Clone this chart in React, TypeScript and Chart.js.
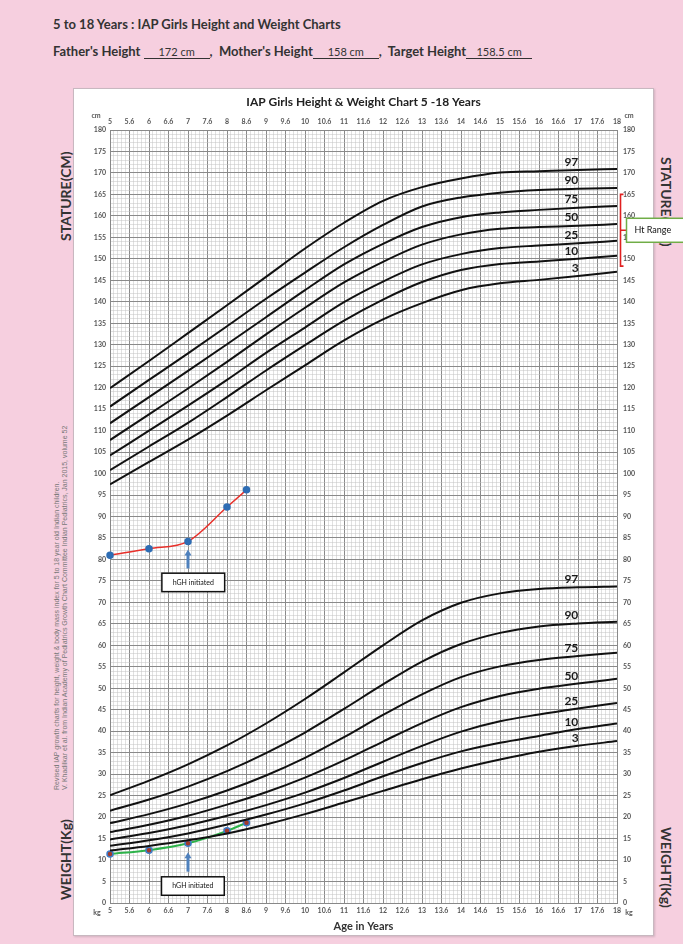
import React, { useEffect, useRef } from "react";
import { Chart, registerables } from "chart.js";
Chart.register(...registerables);

// ---------- data ----------
const ages = [5, 6, 7, 8, 9, 10, 11, 12, 13, 14, 15, 16, 17, 18];

const htP3 = [97.5, 102.7, 107.9, 113.5, 119.4, 125.2, 131.0, 135.9, 139.7, 142.7, 144.3, 145.1, 146.0, 147.0];
const htP10 = [100.8, 106.3, 111.8, 117.8, 124.0, 129.9, 135.6, 140.5, 144.6, 147.4, 148.8, 149.4, 150.0, 150.7];
const htP25 = [104.2, 110.0, 115.8, 121.8, 128.1, 134.0, 139.9, 144.7, 148.7, 151.1, 152.5, 153.1, 153.6, 154.2];
const htP50 = [107.8, 113.8, 119.8, 126.0, 132.4, 138.6, 144.5, 149.3, 153.3, 155.7, 157.0, 157.4, 157.7, 158.1];
const htP75 = [111.7, 117.8, 123.9, 130.1, 136.4, 142.7, 148.7, 153.5, 157.4, 159.7, 160.8, 161.4, 161.9, 162.3];
const htP90 = [115.6, 121.8, 128.0, 134.3, 140.7, 146.8, 152.7, 157.9, 162.2, 164.3, 165.4, 166.0, 166.3, 166.5];
const htP97 = [119.9, 126.2, 132.7, 139.2, 145.8, 152.4, 158.4, 163.5, 166.7, 168.7, 170.1, 170.4, 170.7, 170.9];

const wtP3 = [12.2, 13.3, 14.6, 16.2, 18.3, 20.7, 23.4, 26.1, 28.8, 31.3, 33.4, 35.2, 36.6, 37.7];
const wtP10 = [13.3, 14.6, 16.2, 18.3, 20.6, 23.2, 26.2, 29.5, 32.6, 35.3, 37.3, 38.9, 40.5, 41.8];
const wtP25 = [14.8, 16.3, 18.1, 20.3, 22.8, 25.7, 29.1, 32.9, 36.6, 39.9, 42.3, 43.9, 45.3, 46.6];
const wtP50 = [16.5, 18.2, 20.3, 22.9, 25.8, 29.2, 33.2, 37.6, 41.9, 45.6, 48.2, 49.9, 51.1, 52.2];
const wtP75 = [18.6, 20.7, 23.2, 26.2, 29.7, 33.8, 38.6, 43.8, 48.6, 52.6, 55.1, 56.6, 57.5, 58.3];
const wtP90 = [21.5, 24.1, 27.1, 30.7, 34.9, 39.7, 45.2, 50.9, 56.2, 60.3, 62.9, 64.4, 65.1, 65.5];
const wtP97 = [25.1, 28.5, 32.3, 36.7, 41.8, 47.5, 53.7, 60.0, 65.8, 69.9, 72.1, 73.1, 73.5, 73.7];

const percentileLabels = ["3", "10", "25", "50", "75", "90", "97"];

const patientAges = [5, 6, 7, 8, 8.5];
const patientHeight = [81.0, 82.5, 84.2, 92.2, 96.2];
const patientWeight = [11.4, 12.3, 13.9, 16.8, 18.7];

const hghAge = 7;
const htRange = [148.3, 165.0];

const headerTitle = "5 to 18 Years : IAP Girls Height and Weight Charts";
const fatherHeight = "172 cm";
const motherHeight = "158 cm";
const targetHeight = "158.5 cm";
const chartTitle = "IAP Girls Height & Weight Chart 5 -18 Years";
const sourceLine1 =
  "Revised IAP growth charts for height, weight & body mass index for 5 to 18 year old Indian children.";
const sourceLine2 =
  "V. Khadilkar et al. from Indian Academy of Pediatrics Growth Chart Committee Indian Pediatrics, Jan 2015, volume 52";

// ---------- helpers ----------
const PINK = "#f6cfdf";
const FONT = "Lato, 'Open Sans', sans-serif";

const near = (v: number, step: number) => Math.abs(v / step - Math.round(v / step)) < 1e-6;
const ageLabel = (v: number) => {
  const r = Math.round(v * 10) / 10;
  if (near(r, 1)) return String(Math.round(r));
  if (near(r, 0.5)) return Math.floor(r) + ".6";
  return "";
};
const valLabel = (v: number) => (near(v, 5) ? String(Math.round(v)) : "");

const interp = (xs: number[], ys: number[], a: number) => {
  for (let i = 0; i < xs.length - 1; i++) {
    if (a >= xs[i] && a <= xs[i + 1]) {
      const t = (a - xs[i]) / (xs[i + 1] - xs[i]);
      return ys[i] + t * (ys[i + 1] - ys[i]);
    }
  }
  return ys[ys.length - 1];
};

const htSets = [htP3, htP10, htP25, htP50, htP75, htP90, htP97];
const wtSets = [wtP3, wtP10, wtP25, wtP50, wtP75, wtP90, wtP97];

const overlay = {
  id: "overlay",
  afterDatasetsDraw(chart: any) {
    const { ctx, chartArea, scales } = chart;
    const x = scales.x;
    const y = scales.y;
    ctx.save();

    ctx.fillStyle = "#222";
    ctx.font = `bold 12px ${FONT}`;
    ctx.textAlign = "center";
    ctx.textBaseline = "middle";
    ctx.fillText(chartTitle, (chartArea.left + chartArea.right) / 2, 102);

    ctx.font = `bold 7px ${FONT}`;
    ctx.fillStyle = "#555";
    ctx.fillText("cm", chartArea.left - 14, chartArea.top - 14);
    ctx.fillText("cm", chartArea.right + 12, chartArea.top - 14);
    ctx.fillText("kg", chartArea.left - 13, chartArea.bottom + 10);
    ctx.fillText("kg", chartArea.right + 12, chartArea.bottom + 10);

    ctx.font = `bold 11px ${FONT}`;
    ctx.fillStyle = "#333";
    ctx.fillText("Age in Years", (chartArea.left + chartArea.right) / 2, chartArea.bottom + 23);

    ctx.font = `bold 12px ${FONT}`;
    ctx.fillStyle = "#1a1a1a";
    const drawLabels = (sets: number[][]) => {
      sets.forEach((arr, i) => {
        const a = percentileLabels[i] === "3" ? 16.93 : 16.83;
        const px = x.getPixelForValue(a);
        const py = y.getPixelForValue(interp(ages, arr, a)) - 8.5;
        ctx.fillText(percentileLabels[i], px, py);
      });
    };
    drawLabels(htSets);
    drawLabels(wtSets);

    const arrow = (tail: number, tip: number) => {
      const ax = x.getPixelForValue(hghAge);
      const ty = y.getPixelForValue(tail);
      const hy = y.getPixelForValue(tip);
      ctx.strokeStyle = "#4f81bd";
      ctx.fillStyle = "#4f81bd";
      ctx.lineWidth = 3;
      ctx.beginPath();
      ctx.moveTo(ax, ty);
      ctx.lineTo(ax, hy + 5);
      ctx.stroke();
      ctx.beginPath();
      ctx.moveTo(ax - 3.5, hy + 6);
      ctx.lineTo(ax + 3.5, hy + 6);
      ctx.lineTo(ax, hy);
      ctx.closePath();
      ctx.fill();
    };
    const box = (a0: number, a1: number, v0: number, v1: number) => {
      const x0 = x.getPixelForValue(a0);
      const x1 = x.getPixelForValue(a1);
      const y0 = y.getPixelForValue(v0);
      const y1 = y.getPixelForValue(v1);
      ctx.fillStyle = "#fff";
      ctx.fillRect(x0, y0, x1 - x0, y1 - y0);
      ctx.strokeStyle = "#111";
      ctx.lineWidth = 1.5;
      ctx.strokeRect(x0, y0, x1 - x0, y1 - y0);
      ctx.fillStyle = "#111";
      ctx.font = `7px ${FONT}`;
      ctx.textAlign = "center";
      ctx.fillText("hGH initiated", (x0 + x1) / 2, (y0 + y1) / 2);
    };
    arrow(77.9, 82.3);
    box(6.33, 7.94, 76.8, 72.5);
    arrow(7.3, 11.8);
    box(6.32, 7.93, 6.1, 1.8);

    const bx = chartArea.right + 3.5;
    const by0 = y.getPixelForValue(htRange[1]);
    const by1 = y.getPixelForValue(htRange[0]);
    const bm = (by0 + by1) / 2;
    ctx.strokeStyle = "#e02020";
    ctx.lineWidth = 1.6;
    ctx.beginPath();
    ctx.moveTo(bx + 3, by0);
    ctx.lineTo(bx, by0);
    ctx.lineTo(bx, by1);
    ctx.lineTo(bx + 3, by1);
    ctx.moveTo(bx, bm);
    ctx.lineTo(bx + 6, bm);
    ctx.stroke();
    const boxX = bx + 6;
    ctx.fillStyle = "#fff";
    ctx.fillRect(boxX, bm - 12, 80, 24);
    ctx.strokeStyle = "#70ad47";
    ctx.lineWidth = 1.5;
    ctx.strokeRect(boxX, bm - 12, 80, 24);
    ctx.fillStyle = "#111";
    ctx.font = `9px ${FONT}`;
    ctx.textAlign = "left";
    ctx.fillText("Ht Range", boxX + 8, bm);

    ctx.restore();
  },
};

const makeLine = (arr: number[]) => ({
  data: ages.map((a, i) => ({ x: a, y: arr[i] })),
  borderColor: "#111",
  borderWidth: 2,
  pointRadius: 0,
  cubicInterpolationMode: "monotone" as const,
  fill: false,
});

const ageScale = (position: "top" | "bottom", drawGrid: boolean, height: number, pad: number) => ({
  type: "linear" as const,
  position,
  min: 5,
  max: 18,
  afterFit: (s: any) => {
    s.height = height;
  },
  ticks: {
    stepSize: 0.1,
    autoSkip: false,
    maxRotation: 0,
    minRotation: 0,
    padding: pad,
    font: { family: FONT, size: 7, weight: "bold" as const },
    color: "#555",
    callback: (v: any) => ageLabel(Number(v)),
  },
  grid: {
    display: drawGrid,
    drawTicks: false,
    color: (c: any) => (c.tick && near(c.tick.value, 0.5) ? "#8a8a8a" : "#c2c2c2"),
    lineWidth: (c: any) => (c.tick && near(c.tick.value, 0.5) ? 1 : 0.5),
  },
  border: { display: drawGrid, color: "#888" },
});

const valScale = (position: "left" | "right", drawGrid: boolean, pad: number) => ({
  type: "linear" as const,
  position,
  min: 0,
  max: 180,
  afterFit: (s: any) => {
    s.width = 25;
  },
  ticks: {
    stepSize: 1,
    autoSkip: false,
    padding: pad,
    font: { family: FONT, size: 7, weight: "bold" as const },
    color: "#555",
    callback: (v: any) => valLabel(Number(v)),
  },
  grid: {
    display: drawGrid,
    drawTicks: false,
    color: (c: any) => (c.tick && near(c.tick.value, 5) ? "#8a8a8a" : "#c2c2c2"),
    lineWidth: (c: any) => (c.tick && near(c.tick.value, 5) ? 1 : 0.5),
  },
  border: { display: drawGrid, color: "#888" },
});

export default function App() {
  const ref = useRef<HTMLCanvasElement>(null);
  useEffect(() => {
    document.body.style.margin = "0";
    const datasets: any[] = [
      ...htSets.map(makeLine),
      ...wtSets.map(makeLine),
      {
        data: patientAges.map((a, i) => ({ x: a, y: patientHeight[i] })),
        borderColor: "#e8302a",
        borderWidth: 1.5,
        pointRadius: 3,
        pointBackgroundColor: "#2e6db4",
        pointBorderColor: "#2e6db4",
        cubicInterpolationMode: "monotone",
        clip: false,
      },
      {
        data: patientAges.map((a, i) => ({ x: a, y: patientWeight[i] })),
        borderColor: "#2db34a",
        borderWidth: 2,
        pointRadius: 3,
        pointBorderWidth: 1.5,
        pointBackgroundColor: "#a33a2a",
        pointBorderColor: "#3d7cc9",
        cubicInterpolationMode: "monotone",
        clip: false,
      },
    ];
    const chart = new Chart(ref.current!, {
      type: "line",
      data: { datasets },
      options: {
        animation: false,
        responsive: false,
        layout: { padding: { left: 85, right: 41, top: 112, bottom: 11 } },
        plugins: { legend: { display: false }, tooltip: { enabled: false } },
        scales: {
          x: ageScale("bottom", true, 30, 4),
          x2: ageScale("top", false, 18, 4),
          y: valScale("left", true, 4),
          y2: valScale("right", false, 6),
        } as any,
      },
      plugins: [overlay],
    });
    return () => chart.destroy();
  }, []);

  const u = (t: string, w: number) => (
    <span
      style={{
        display: "inline-block",
        width: w,
        borderBottom: "1px solid #333",
        textAlign: "center",
        fontWeight: 400,
        fontSize: 11,
        lineHeight: "13px",
      }}
    >
      {t}
    </span>
  );

  const rot = (text: string, left: number, top: number, deg: number, style: any) => (
    <div
      style={{
        position: "absolute",
        left,
        top,
        transformOrigin: "0 0",
        transform: `rotate(${deg}deg)`,
        whiteSpace: "nowrap",
        ...style,
      }}
    >
      {text}
    </div>
  );

  const side = { fontFamily: FONT, fontWeight: 700, fontSize: 14, color: "#333", lineHeight: "15px" };

  return (
    <div
      style={{
        position: "relative",
        width: 683,
        height: 944,
        background: PINK,
        overflow: "hidden",
        fontFamily: FONT,
      }}
    >
      <div style={{ position: "absolute", left: 53, top: 16, fontWeight: 700, fontSize: 13, color: "#333" }}>
        {headerTitle}
      </div>
      <div style={{ position: "absolute", left: 53, top: 43, fontWeight: 700, fontSize: 13, color: "#333", whiteSpace: "nowrap" }}>
        Father's Height {u(fatherHeight, 66)}, &nbsp;Mother's Height{u(motherHeight, 66)}, &nbsp;Target Height{u(targetHeight, 66)}
      </div>
      <div
        style={{
          position: "absolute",
          left: 73,
          top: 88,
          width: 579,
          height: 846,
          background: "#fff",
          border: "1px solid #c8b8c0",
          boxShadow: "1px 1px 2px rgba(0,0,0,0.15)",
        }}
      />
      <div
        style={{
          position: "absolute",
          left: 53,
          top: 790,
          transformOrigin: "0 0",
          transform: "rotate(-90deg)",
          whiteSpace: "nowrap",
          fontFamily: "'Liberation Sans', Arial, sans-serif",
          fontSize: 7,
          lineHeight: "8px",
          color: "#777",
        }}
      >
        <div>{sourceLine1}</div>
        <div>{sourceLine2}</div>
      </div>
      {rot("STATURE(CM)", 58, 241, -90, side)}
      {rot("WEIGHT(Kg)", 58, 900, -90, side)}
      {rot("STATURE(CM)", 674, 157, 90, side)}
      {rot("WEIGHT(Kg)", 674, 827, 90, side)}
      <canvas ref={ref} width={683} height={944} style={{ position: "absolute", left: 0, top: 0 }} />
    </div>
  );
}
